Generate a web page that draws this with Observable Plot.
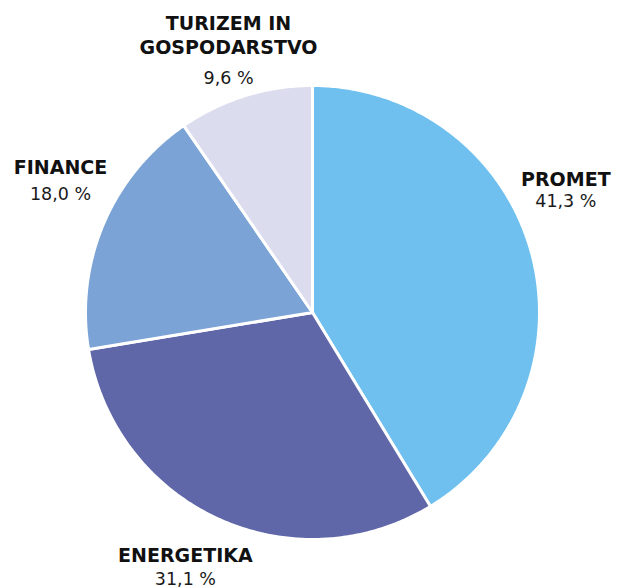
<!DOCTYPE html>
<html>
<head>
<meta charset="utf-8">
<script src="https://cdn.jsdelivr.net/npm/d3@7"></script>
<script src="https://cdn.jsdelivr.net/npm/@observablehq/plot@0.6"></script>
<style>
  html, body { margin: 0; padding: 0; background: #ffffff; }
  #chart svg { display: block; }
</style>
</head>
<body>
<div id="chart"></div>
<script>
// ---- data ----
const categories = ["PROMET", "ENERGETIKA", "FINANCE", "TURIZEM IN\nGOSPODARSTVO"];
const shares = [41.3, 31.1, 18.0, 9.6];
const valueLabels = ["41,3 %", "31,1 %", "18,0 %", "9,6 %"];
const colors = ["#6fc0ee", "#5f67a8", "#7ba3d6", "#dcdcef"];

// ---- layout (label anchors in unit-circle coordinates) ----
const labelX = [1.116, -0.56, -1.11, -0.37];
const nameY = [0.556, -1.101, 0.609, 1.137];
const valueY = [0.466, -1.202, 0.497, 1.006];

const rows = categories.map((name, i) => ({name, share: shares[i], value: valueLabels[i], lx: labelX[i], ny: nameY[i], vy: valueY[i]}));

// slice outlines on the unit circle (angle 0 = top, clockwise)
const arcs = d3.pie().sort(null).value(d => d.share)(rows);
const outline = [];
for (const a of arcs) {
  const n = Math.max(2, Math.ceil((a.endAngle - a.startAngle) / 0.01));
  outline.push({name: a.data.name, x: 0, y: 0});
  for (let k = 0; k <= n; k++) {
    const t = a.startAngle + (a.endAngle - a.startAngle) * k / n;
    outline.push({name: a.data.name, x: Math.sin(t), y: Math.cos(t)});
  }
}

const chart = Plot.plot({
  width: 617,
  height: 588,
  marginLeft: 85,
  marginRight: 78,
  marginTop: 85,
  marginBottom: 49,
  x: {domain: [-1, 1], axis: null},
  y: {domain: [-1, 1], axis: null},
  color: {domain: categories, range: colors},
  style: {background: "#ffffff", overflow: "visible"},
  marks: [
    Plot.line(outline, {x: "x", y: "y", z: "name", fill: "name", stroke: "#ffffff", strokeWidth: 3, curve: "linear-closed", strokeLinejoin: "round"}),
    Plot.text(rows, {x: "lx", y: "ny", text: "name", lineAnchor: "bottom", textAnchor: "middle", fontFamily: "DejaVu Sans", fontWeight: "bold", fontSize: 19, lineHeight: 1.3, fill: "#111111"}),
    Plot.text(rows, {x: "lx", y: "vy", text: "value", lineAnchor: "bottom", textAnchor: "middle", fontFamily: "DejaVu Sans", fontWeight: "normal", fontSize: 17.5, fill: "#1a1a1a"})
  ]
});
document.getElementById("chart").appendChild(chart);
</script>
</body>
</html>
